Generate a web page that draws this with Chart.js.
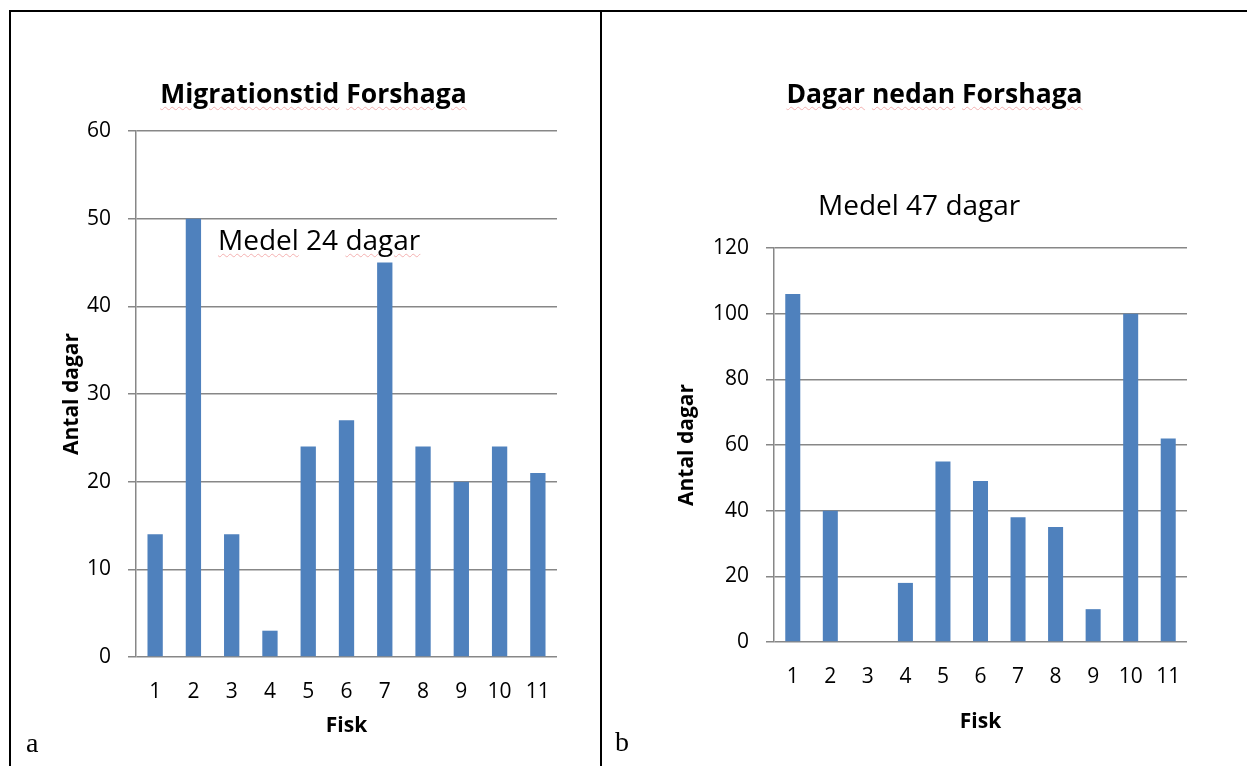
<!DOCTYPE html>
<html>
<head>
<meta charset="utf-8">
<script src="https://cdn.jsdelivr.net/npm/chart.js@4.4.1/dist/chart.umd.min.js"></script>
<style>
  html, body { margin:0; padding:0; background:#fff; width:1247px; height:766px; overflow:hidden; }
  .line { position:absolute; background:#000; }
  .txt { position:absolute; white-space:nowrap; line-height:1; color:#000; font-family:"Open Sans", sans-serif; }
  .title { font-weight:bold; font-size:26.5px; transform:translateX(-50%); }
  .note { font-size:28px; }
  .sq { text-decoration: underline wavy #f4b0b0; text-decoration-thickness:1px; text-underline-offset:3px; }
  .panel { font-family:"Liberation Serif", serif; font-size:28px; }
  canvas { position:absolute; }
</style>
</head>
<body>
<div class="line" style="left:9px;top:10px;width:1238px;height:2px;"></div>
<div class="line" style="left:9px;top:10px;width:2px;height:756px;"></div>
<div class="line" style="left:600px;top:10px;width:2px;height:756px;"></div>

<canvas id="chartA" width="588" height="753" style="left:11px;top:13px;width:588px;height:753px;"></canvas>
<canvas id="chartB" width="645" height="753" style="left:602px;top:13px;width:645px;height:753px;"></canvas>

<div class="txt title" style="left:313.5px;top:79.5px;"><span class="sq">Migrationstid</span> <span class="sq">Forshaga</span></div>
<div class="txt title" style="left:934.5px;top:79.5px;"><span class="sq">Dagar</span> <span class="sq">nedan</span> <span class="sq">Forshaga</span></div>
<div class="txt note" style="left:218px;top:225px;"><span class="sq">Medel</span> 24 <span class="sq">dagar</span></div>
<div class="txt note" style="left:818px;top:190px;">Medel 47 dagar</div>
<div class="txt panel" style="left:26px;top:729px;">a</div>
<div class="txt panel" style="left:615px;top:728px;">b</div>

<script>
// ---- data ----
const fishLabels = ['1','2','3','4','5','6','7','8','9','10','11'];
const migrationDays = [14, 50, 14, 3, 24, 27, 45, 24, 20, 24, 21];
const daysBelow = [106, 40, 0, 18, 55, 49, 38, 35, 10, 100, 62];
const yTicksA = [0, 10, 20, 30, 40, 50, 60];
const yTicksB = [0, 20, 40, 60, 80, 100, 120];
const xTitle = 'Fisk';
const yTitle = 'Antal dagar';

const BAR = '#4F81BD';
const GRID = '#878787';

function build(id, values, yTicks, geo) {
  return new Chart(document.getElementById(id), {
    type: 'bar',
    data: {
      labels: fishLabels,
      datasets: [{
        data: values,
        backgroundColor: BAR,
        borderWidth: 0,
        barPercentage: 0.4,
        categoryPercentage: 1.0
      }]
    },
    options: {
      responsive: false,
      animation: false,
      devicePixelRatio: 1,
      layout: { padding: { left: 0, top: geo.top, right: geo.right, bottom: 0 } },
      plugins: { legend: { display: false }, tooltip: { enabled: false }, title: { display: false } },
      scales: {
        x: {
          grid: { display: false, drawTicks: false },
          border: { display: false },
          ticks: { color: '#000', font: { family: 'Open Sans', size: 21 }, padding: geo.xTickPad, maxRotation: 0, autoSkip: false },
          title: { display: true, text: xTitle, color: '#000', font: { family: 'Open Sans', size: 21, weight: 'bold' }, padding: { top: 0, bottom: geo.xTitlePad } },
          afterFit: s => { s.height = geo.xH; }
        },
        y: {
          min: yTicks[0],
          max: yTicks[yTicks.length - 1],
          afterBuildTicks: s => { s.ticks = yTicks.map(v => ({ value: v })); },
          grid: { color: GRID, lineWidth: 1.5, tickLength: 8, drawTicks: true },
          border: { display: true, color: GRID, width: 1.5 },
          ticks: { color: '#000', font: { family: 'Open Sans', size: 21 }, padding: 17 },
          title: { display: true, text: yTitle, color: '#000', font: { family: 'Open Sans', size: 21, weight: 'bold' }, padding: { top: geo.yTitlePad, bottom: 0 } },
          afterFit: s => { s.width = geo.yW; }
        }
      }
    }
  });
}

build('chartA', migrationDays, yTicksA, { top: 118, right: 42, yW: 125, xH: 109, xTickPad: 22, xTitlePad: 27, yTitlePad: 48 });
build('chartB', daysBelow, yTicksB, { top: 235, right: 60, yW: 172, xH: 124, xTickPad: 22, xTitlePad: 31, yTitlePad: 72 });
</script>
</body>
</html>
